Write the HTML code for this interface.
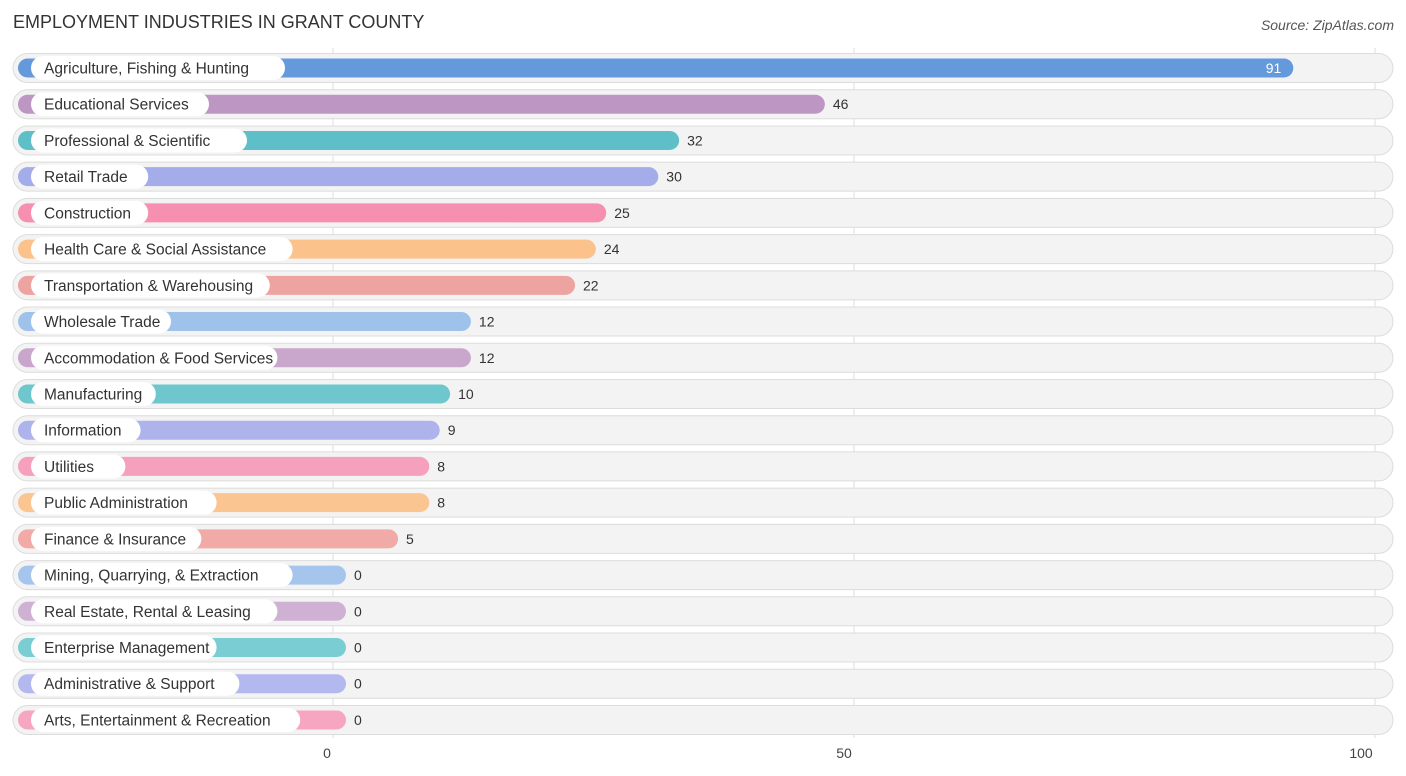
<!DOCTYPE html>
<html><head><meta charset="utf-8"><style>
body{margin:0;background:#fff;font-family:"Liberation Sans",sans-serif;}
svg{display:block}
</style></head><body>
<svg id="chart" width="1406" height="776">
<text x="13" y="28" font-size="18" fill="#333">EMPLOYMENT INDUSTRIES IN GRANT COUNTY</text>
<text x="1394" y="30" font-size="14" fill="#555" font-style="italic" text-anchor="end">Source: ZipAtlas.com</text>
<g id="grid"></g><g id="rows"></g><g id="ticks"></g>
</svg>
<script>
const categories=["Agriculture, Fishing & Hunting","Educational Services","Professional & Scientific","Retail Trade","Construction","Health Care & Social Assistance","Transportation & Warehousing","Wholesale Trade","Accommodation & Food Services","Manufacturing","Information","Utilities","Public Administration","Finance & Insurance","Mining, Quarrying, & Extraction","Real Estate, Rental & Leasing","Enterprise Management","Administrative & Support","Arts, Entertainment & Recreation"];
const values=[91,46,32,30,25,24,22,12,12,10,9,8,8,5,0,0,0,0,0];
const tickValues=[0,50,100];
const colors=["#6499db","#bd96c4","#5fbfc8","#a5acea","#f68fb0","#fbc28c","#eda39f","#9fc2ea","#c9a7cd","#6dc7cd","#aeb3ec","#f5a0bd","#fbc592","#f1aaa6","#a5c5ec","#cfb1d4","#7acdd2","#b3b8ee","#f7a6c2"];
const NS="http://www.w3.org/2000/svg";
const x=v=>333+v*10.42;
const barEnd=v=>346+v*10.41;
const rowY=i=>68+i*36.22;
function mk(t,a,p){const e=document.createElementNS(NS,t);for(const k in a)e.setAttribute(k,a[k]);p.appendChild(e);return e;}
const grid=document.getElementById('grid'),rows=document.getElementById('rows'),ticks=document.getElementById('ticks');
tickValues.forEach(t=>{
 const l=mk('line',{x1:x(t),x2:x(t),y1:48,y2:738,stroke:'#ddd','stroke-width':1},grid);
 
 
 const tx=mk('text',{x:x(t)+(t===0?-6:t===100?-14:-10),y:758,'font-size':14,fill:'#444','text-anchor':'middle'},ticks);
 tx.textContent=t;
 
 
});
categories.forEach((c,i)=>{
 const cy=rowY(i);
 const g=mk('g',{},rows);
 
 
 const bg=mk('rect',{x:13,y:cy-14.5,width:1380,height:29,rx:14.5,fill:'#f3f3f3',stroke:'#dcdcdc','stroke-width':1},g);
 
 
 const b=mk('rect',{x:18,y:cy-9.5,width:barEnd(values[i])-18,height:19,rx:9.5,fill:colors[i]},g);
 
 
 const tw=c.length*7.6+26;
 const pill=mk('rect',{x:31,y:cy-12,width:tw,height:24,rx:12,fill:'#fff'},g);
 
 
 const lt=mk('text',{x:44,y:cy+5.5,'font-size':15.5,fill:'#333'},g);
 lt.textContent=c;
 
 
 const inside=values[i]>80;
 const vt=mk('text',{x:inside?barEnd(values[i])-12:barEnd(values[i])+8,y:cy+5,'font-size':14,fill:inside?'#fff':'#333','text-anchor':inside?'end':'start'},g);
 vt.textContent=values[i];
 
 
});
</script>
</body></html>
